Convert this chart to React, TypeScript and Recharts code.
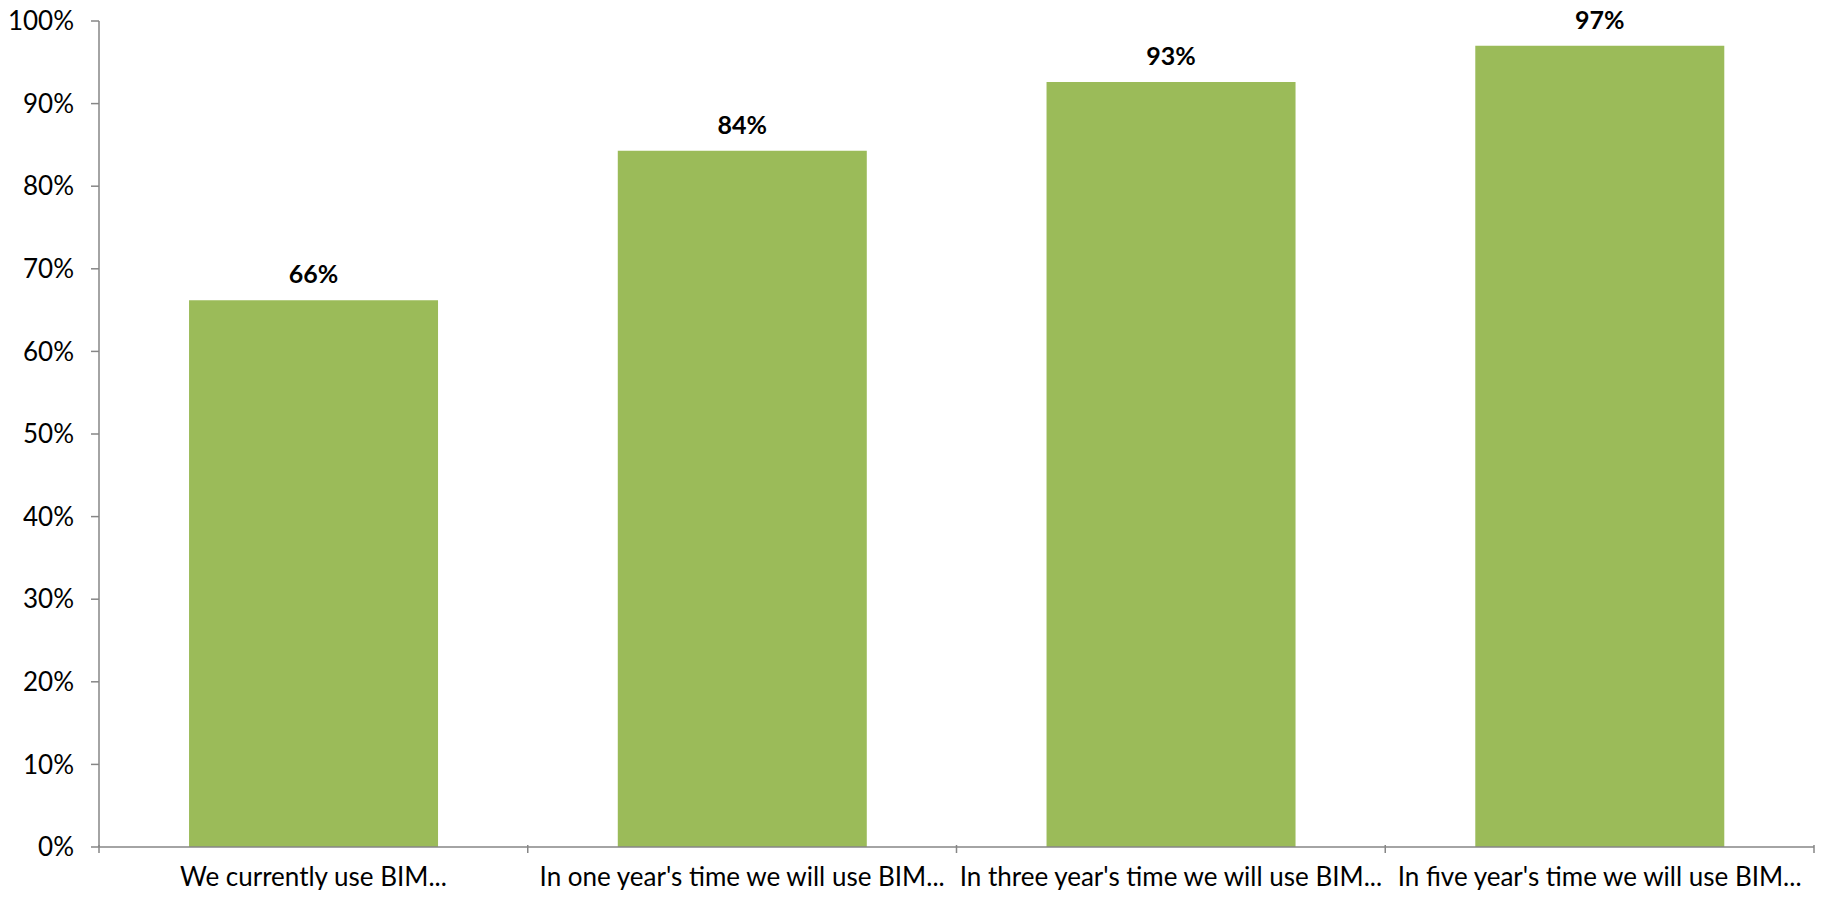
import { BarChart, Bar, XAxis, YAxis, LabelList } from "recharts";

const categories = [
  "We currently use BIM...",
  "In one year's time we will use BIM...",
  "In three year's time we will use BIM...",
  "In five year's time we will use BIM...",
];
const shares = [66.2, 84.3, 92.6, 97.0];
const yTicks = [0, 10, 20, 30, 40, 50, 60, 70, 80, 90, 100];

const data = categories.map((name, i) => ({ name, value: shares[i] }));

const FONT = "Lato, 'Open Sans', sans-serif";
const AXIS = "#868686";

// ticks sit on category boundaries, like the Excel original
function CategoryTick(props: any) {
  const { x, y, payload, index, visibleTicksCount } = props;
  const half = payload?.offset ?? 0;
  const top = y - 10;
  return (
    <g>
      <line x1={x - half} x2={x - half} y1={top} y2={top + 8} stroke={AXIS} strokeWidth={1.5} />
      {index === visibleTicksCount - 1 && (
        <line x1={x + half} x2={x + half} y1={top} y2={top + 8} stroke={AXIS} strokeWidth={1.5} />
      )}
      <text x={x} y={y + 31} textAnchor="middle" fontFamily={FONT} fontSize={26} fill="#000">
        {payload.value}
      </text>
    </g>
  );
}

export default function App() {
  return (
    <div style={{ width: 1829, height: 898, margin: -8 }}>
      <BarChart
        width={1829}
        height={898}
        data={data}
        margin={{ top: 21, right: 15, bottom: 0, left: 0 }}
        barCategoryGap="21%"
      >
        <XAxis
          dataKey="name"
          tickLine={false}
          axisLine={{ stroke: AXIS, strokeWidth: 1.5 }}
          tick={<CategoryTick />}
          interval={0}
          height={51}
        />
        <YAxis
          width={99}
          domain={[0, 100]}
          ticks={yTicks}
          tickFormatter={(v: number) => `${v}%`}
          tickSize={8}
          tickMargin={17}
          axisLine={{ stroke: AXIS, strokeWidth: 1.5 }}
          tickLine={{ stroke: AXIS, strokeWidth: 1.5 }}
          tick={{ fontFamily: FONT, fontSize: 26, fill: "#000" }}
        />
        <Bar dataKey="value" fill="#9BBB59" isAnimationActive={false}>
          <LabelList
            dataKey="value"
            position="top"
            offset={17}
            formatter={(v: any) => `${Math.round(Number(v))}%`}
            style={{ fontFamily: FONT, fontSize: 25, fontWeight: 700, fill: "#000" }}
          />
        </Bar>
      </BarChart>
    </div>
  );
}
